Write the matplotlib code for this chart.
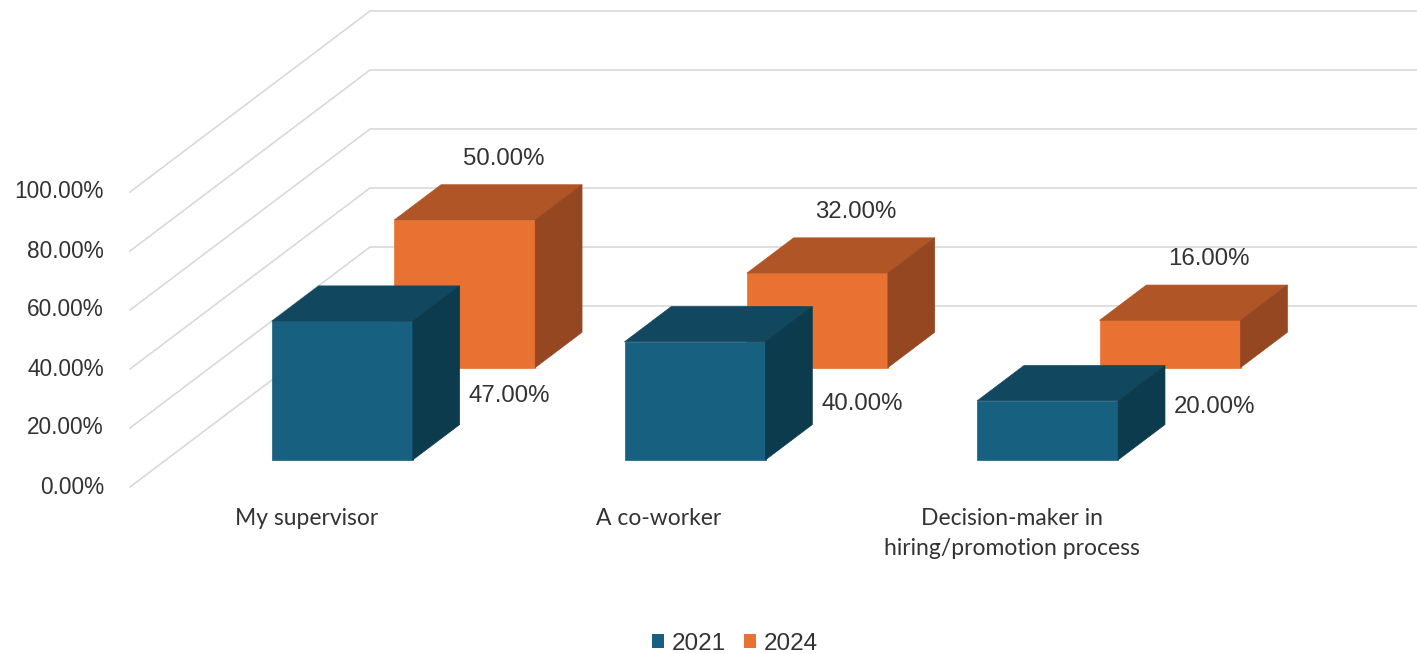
import matplotlib.pyplot as plt
from matplotlib.patches import Polygon, Patch

categories = ["My supervisor", "A co-worker", "Decision-maker in\nhiring/promotion process"]
years = ["2021", "2024"]
values_2021 = [47.0, 40.0, 20.0]
values_2024 = [50.0, 32.0, 16.0]
ticks = [0, 20, 40, 60, 80, 100]

# colours: front, top, side faces
face_colors = {
    "2021": ("#17607f", "#11475f", "#0c3b4e"),
    "2024": ("#e97132", "#b05626", "#944720"),
}
grid_color = "#d9d9d9"
text_color = "#333333"

# oblique projection: x in pixels, y in percent, depth 0 (front) .. 1 (back wall)
PX_PER_PCT = 2.95
DX, DY = 240.0, 181.0 / PX_PER_PCT
X0, X1 = 130.0, 1188.0
BAR_W = 141.0
BAR_D = 0.195
ROW_DEPTH = {"2021": 0.15, "2024": 0.66}


def proj(x, v, d):
    return x + DX * d, v + DY * d


fig = plt.figure(figsize=(14.17, 6.54), dpi=100)
ax = fig.add_axes([0, 0, 1, 1])
ax.set_xlim(0, 1417)
ax.set_ylim(-167 / PX_PER_PCT, (654 - 167) / PX_PER_PCT)
ax.axis("off")

# side wall and back wall gridlines
for t in ticks:
    fx, fy = proj(X0, t, 0)
    bx, by = proj(X0, t, 1)
    ex, _ = proj(X1, t, 1)
    ax.plot([fx, bx, ex], [fy, by, by], color=grid_color, lw=1.2, zorder=1,
            solid_joinstyle="miter")
    ax.text(104, t, f"{t:.2f}%", ha="right", va="center", fontsize=16.3,
            family="Liberation Sans", color=text_color)

slot = (X1 - X0) / len(categories)
centers = [X0 + (i + 0.5) * slot for i in range(len(categories))]


def draw_bar(xc, v, d0, colors):
    xl, xr = xc - BAR_W / 2, xc + BAR_W / 2
    d1 = d0 + BAR_D
    front = [proj(xl, 0, d0), proj(xr, 0, d0), proj(xr, v, d0), proj(xl, v, d0)]
    top = [proj(xl, v, d0), proj(xr, v, d0), proj(xr, v, d1), proj(xl, v, d1)]
    side = [proj(xr, 0, d0), proj(xr, 0, d1), proj(xr, v, d1), proj(xr, v, d0)]
    for pts, c in zip((front, top, side), colors):
        ax.add_patch(Polygon(pts, closed=True, facecolor=c, edgecolor=c,
                             lw=0.5, zorder=3))


# back row first so the front row covers it
for xc, v in zip(centers, values_2024):
    draw_bar(xc, v, ROW_DEPTH["2024"], face_colors["2024"])
    lx, ly = proj(xc, v, ROW_DEPTH["2024"] + BAR_D)
    ax.text(lx - 8, ly + 26 / PX_PER_PCT, f"{v:.2f}%", ha="center", va="center",
            fontsize=17.3, family="Liberation Sans", color=text_color, zorder=5)

label_lift_2021 = [29, 21, 18]
for xc, v, lift in zip(centers, values_2021, label_lift_2021):
    draw_bar(xc, v, ROW_DEPTH["2021"], face_colors["2021"])
    lx, ly = proj(xc + BAR_W / 2, 0, ROW_DEPTH["2021"] + BAR_D)
    ax.text(lx + 50, ly + lift / PX_PER_PCT, f"{v:.2f}%", ha="center",
            va="center", fontsize=17.3, family="Liberation Sans",
            color=text_color, zorder=5)

for xc, name in zip(centers, categories):
    ax.text(xc, -7.2, name, ha="center", va="top", fontsize=16.5, family="Lato",
            color=text_color, linespacing=1.5)

handles = [Patch(facecolor=face_colors[y][0]) for y in years]
fig.legend(handles, years, loc="center", bbox_to_anchor=(735 / 1417, 1 - 644 / 654),
           ncol=2, frameon=False, handlelength=0.5, handleheight=0.5,
           handletextpad=0.3, columnspacing=0.75,
           prop={"family": "Liberation Sans", "size": 17.5}, labelcolor=text_color)

fig.savefig("out.png", dpi=100)
